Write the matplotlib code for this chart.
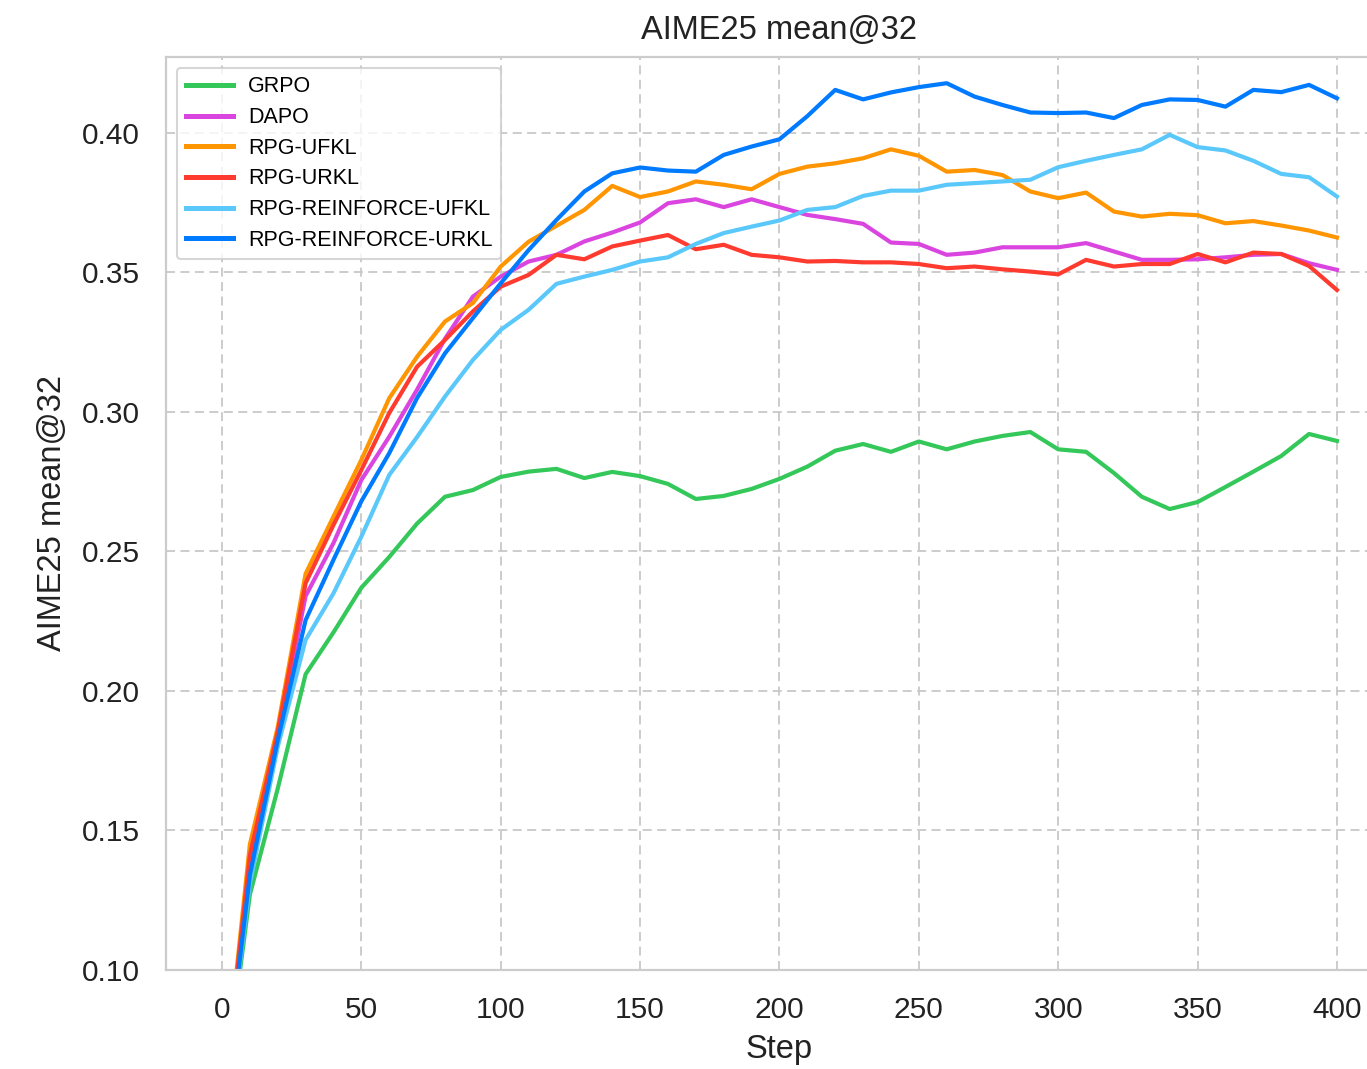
import numpy as np
import matplotlib
matplotlib.use("Agg")
import matplotlib.pyplot as plt

plt.rcParams['font.family'] = ['Liberation Sans', 'DejaVu Sans']

# steps
steps = np.arange(0, 401, 10)

# AIME25 mean@32 per method
grpo = [0.05, 0.127, 0.165, 0.206, 0.221, 0.237, 0.248, 0.260, 0.2696, 0.272,
        0.2767, 0.2786, 0.2796, 0.2763, 0.2785, 0.277, 0.2742, 0.2688, 0.2699, 0.2724,
        0.276, 0.2804, 0.2861, 0.2885, 0.2857, 0.2894, 0.2866, 0.2894, 0.2914, 0.2928,
        0.2866, 0.2857, 0.2781, 0.2696, 0.2652, 0.2677, 0.2731, 0.2786, 0.2842, 0.2921,
        0.2896]
dapo = [0.05, 0.138, 0.184, 0.234, 0.253, 0.2756, 0.2911, 0.308, 0.3262, 0.3413,
        0.3485, 0.3539, 0.3563, 0.3611, 0.3643, 0.3679, 0.3748, 0.3762, 0.3734, 0.3762,
        0.3734, 0.3706, 0.3691, 0.3674, 0.3607, 0.3602, 0.3563, 0.3571, 0.359, 0.359,
        0.359, 0.3605, 0.3575, 0.3545, 0.3545, 0.3547, 0.3554, 0.3563, 0.3566, 0.3533,
        0.3509]
rpg_ufkl = [0.05, 0.145, 0.187, 0.242, 0.2625, 0.2828, 0.3049, 0.3198, 0.3324, 0.339,
            0.3521, 0.361, 0.3667, 0.3724, 0.381, 0.377, 0.379, 0.3826, 0.3814, 0.3798,
            0.3853, 0.3879, 0.3891, 0.3909, 0.3941, 0.3918, 0.3861, 0.3867, 0.3849, 0.379,
            0.3766, 0.3786, 0.3718, 0.370, 0.371, 0.3705, 0.3676, 0.3684, 0.3668, 0.365,
            0.3625]
rpg_urkl = [0.05, 0.141, 0.1854, 0.2386, 0.2595, 0.2792, 0.2996, 0.3162, 0.3258, 0.336,
            0.3449, 0.3491, 0.3563, 0.3547, 0.3593, 0.3614, 0.3634, 0.3583, 0.3599, 0.3563,
            0.3554, 0.3539, 0.3541, 0.3536, 0.3536, 0.353, 0.3515, 0.3521, 0.3511, 0.3503,
            0.3493, 0.3545, 0.3521, 0.353, 0.353, 0.3566, 0.3536, 0.3571, 0.3566, 0.3523,
            0.3437]
reinforce_ufkl = [0.05, 0.131, 0.18, 0.2183, 0.235, 0.2553, 0.2774, 0.291, 0.3055, 0.3186,
                  0.3294, 0.3366, 0.3459, 0.3485, 0.3509, 0.3539, 0.3554, 0.3602, 0.3641, 0.3664,
                  0.3686, 0.3724, 0.3734, 0.3774, 0.3793, 0.3793, 0.3814, 0.382, 0.3826, 0.3832,
                  0.3877, 0.390, 0.3921, 0.3941, 0.3993, 0.3949, 0.3937, 0.390, 0.3853, 0.3841,
                  0.3772]
reinforce_urkl = [0.05, 0.134, 0.1824, 0.2254, 0.247, 0.268, 0.2852, 0.305, 0.321, 0.3336,
                  0.3461, 0.358, 0.3688, 0.379, 0.3855, 0.3876, 0.3865, 0.3861, 0.3921, 0.3951,
                  0.3977, 0.406, 0.4154, 0.412, 0.4145, 0.4164, 0.4178, 0.413, 0.410, 0.4073,
                  0.4071, 0.4073, 0.4053, 0.410, 0.412, 0.4118, 0.4094, 0.4154, 0.4146, 0.4172,
                  0.4124]

labels = ['GRPO', 'DAPO', 'RPG-UFKL', 'RPG-URKL', 'RPG-REINFORCE-UFKL', 'RPG-REINFORCE-URKL']
series = [grpo, dapo, rpg_ufkl, rpg_urkl, reinforce_ufkl, reinforce_urkl]
colors = ['#34C759', '#DA45E0', '#FF9500', '#FF3B30', '#5AC8FA', '#007AFF']

fig = plt.figure(figsize=(13.67, 10.69), dpi=100)
ax = fig.add_axes([0.1216, 0.0926, 0.8972, 0.8541])

for y, lab, c in zip(series, labels, colors):
    ax.plot(steps, y, color=c, linewidth=3.0, label=lab)

ax.set_xlim(-20, 420)
ax.set_ylim(0.10, 0.4272)
ax.set_xticks(np.arange(0, 401, 50))
ax.set_yticks([0.10, 0.15, 0.20, 0.25, 0.30, 0.35, 0.40])
ax.set_yticklabels(['0.10', '0.15', '0.20', '0.25', '0.30', '0.35', '0.40'])

ax.grid(True, linestyle=(0, (5, 3)), color='#c8c8c8', linewidth=1.3)
for s in ax.spines.values():
    s.set_color('#cccccc')
    s.set_linewidth(1.6)
ax.tick_params(axis='both', length=0, pad=19, labelsize=21.5, colors='#222222')

ax.set_title('AIME25 mean@32', fontsize=23.5, color='#222222', pad=13)
ax.set_xlabel('Step', fontsize=23.5, color='#222222', labelpad=7)
ax.set_ylabel('AIME25 mean@32', fontsize=23.5, color='#222222', labelpad=10)

leg = ax.legend(loc='upper left', fontsize=15.5, handlelength=2.2, handletextpad=0.7,
                labelspacing=0.45, frameon=True, borderaxespad=0.5)
for h in leg.get_lines():
    h.set_linewidth(3.6)
leg.get_frame().set_edgecolor('#cccccc')
leg.get_frame().set_linewidth(1.5)

fig.savefig('out.png', dpi=100)
